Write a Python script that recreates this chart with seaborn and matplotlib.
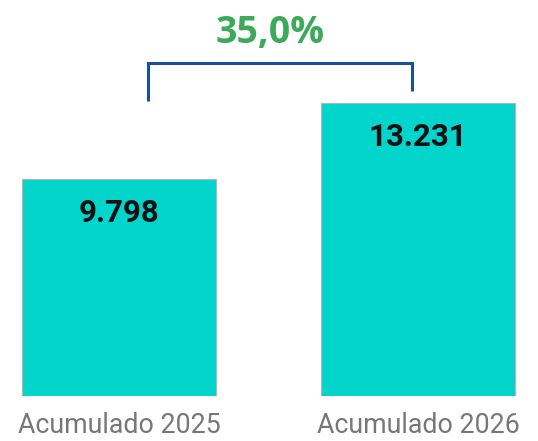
import matplotlib
matplotlib.use("Agg")
from matplotlib import pyplot as plt
import seaborn as sns

# data
categories = ["Acumulado 2025", "Acumulado 2026"]
values = [9798, 13231]

bar_color = "#03D5CC"
bracket_color = "#1A4F9E"
pct_color = "#3DAA5A"


def fmt_thousands(v):
    return f"{v:,}".replace(",", ".")


sns.set_theme(style="white")
plt.rcParams['font.family'] = ['Roboto', 'DejaVu Sans']

fig = plt.figure(figsize=(5.38, 4.41), dpi=100)
ax = fig.add_axes([0, 45 / 441, 1, 396 / 441])

sns.barplot(x=categories, y=values, color=bar_color, width=0.65,
            edgecolor="#b5b5b5", linewidth=0.8, saturation=1, ax=ax)

ax.set_xlim(-0.398, 1.401)
ax.set_ylim(0, 17880)
sns.despine(ax=ax, left=True, bottom=True)
ax.set_yticks([])
ax.set_xlabel("")
ax.set_ylabel("")
ax.tick_params(axis="x", length=0, pad=11.5, labelsize=19.3, labelcolor="#777777")

# value labels inside bars
for i, v in enumerate(values):
    ax.annotate(fmt_thousands(v), xy=(i, v), xytext=(0, -24.5),
                textcoords="offset points", ha="center", va="center",
                fontsize=22.5, fontweight="bold", color="#111111",
                family=['Roboto', 'DejaVu Sans'])

# bracket between the bars
top_y = max(values) + 1800
ax.plot([0.097, 0.097, 0.98, 0.98],
        [values[1] + 90, top_y, top_y, values[1] + 540],
        color=bracket_color, linewidth=2.2, solid_capstyle="butt",
        solid_joinstyle="miter", clip_on=False)

pct = (values[1] / values[0] - 1) * 100
ax.text(0.505, top_y + 1380, f"{pct:.1f}%".replace(".", ","),
        ha="center", va="center", fontsize=27, fontweight="bold",
        color=pct_color, family=['Open Sans', 'DejaVu Sans'])

fig.savefig("out.png", dpi=100)
